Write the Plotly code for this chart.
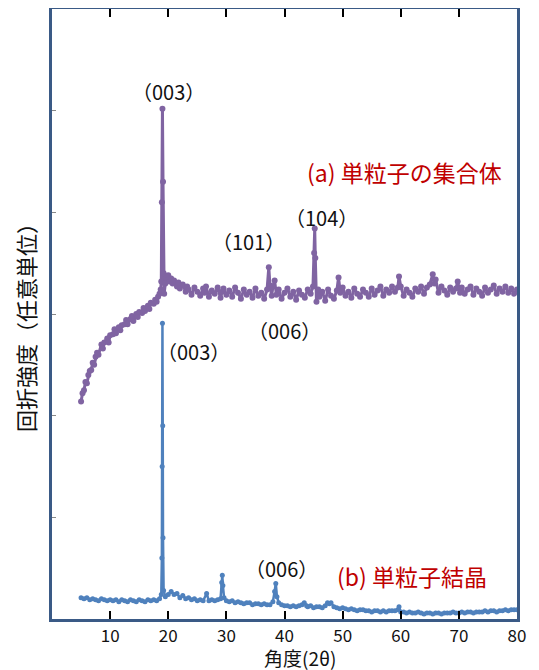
import plotly.graph_objects as go

# (a) 単粒子の集合体 : (2θ, intensity in tick units)
a_points = [
    (5.0, 2.14), (5.25, 2.22), (5.5, 2.25), (5.75, 2.33), (6.0, 2.32), (6.25, 2.40), (6.5, 2.44),
    (6.75, 2.45), (7.0, 2.52), (7.25, 2.50), (7.5, 2.58), (7.75, 2.62), (8.0, 2.60), (8.5, 2.70),
    (8.75, 2.66), (9.0, 2.72), (9.5, 2.76), (9.75, 2.72), (10.0, 2.79), (10.5, 2.80), (10.75, 2.85),
    (11.0, 2.81), (11.5, 2.87), (11.75, 2.84), (12.0, 2.89), (12.5, 2.90), (12.75, 2.94), (13.0, 2.90),
    (13.5, 2.95), (13.75, 2.98), (14.0, 2.93), (14.5, 3.00), (14.75, 2.97), (15.0, 3.02), (15.5, 3.01),
    (15.75, 3.06), (16.0, 3.03), (16.5, 3.08), (16.75, 3.05), (17.0, 3.11), (17.5, 3.10), (17.75, 3.14),
    (18.0, 3.12), (18.25, 3.17), (18.5, 3.20), (18.7, 3.24), (18.8, 3.32), (18.9, 4.10), (19.0, 5.02),
    (19.1, 4.30), (19.2, 3.40), (19.3, 3.20), (19.5, 3.30), (19.7, 3.36), (20.0, 3.38), (20.25, 3.32),
    (20.5, 3.35), (20.75, 3.30), (21.0, 3.33), (21.5, 3.27), (21.75, 3.31), (22.0, 3.25), (22.5, 3.29),
    (23.0, 3.22), (23.25, 3.27), (23.5, 3.24), (24.0, 3.19), (24.5, 3.26), (25.0, 3.22), (25.5, 3.18),
    (26.0, 3.25), (26.25, 3.21), (26.5, 3.27), (27.0, 3.17), (27.5, 3.23), (28.0, 3.20), (28.5, 3.26),
    (29.0, 3.16), (29.25, 3.22), (29.5, 3.25), (30.0, 3.19), (30.5, 3.23), (31.0, 3.17), (31.5, 3.26),
    (32.0, 3.21), (32.5, 3.15), (33.0, 3.24), (33.5, 3.19), (34.0, 3.22), (34.5, 3.16), (35.0, 3.25),
    (35.5, 3.18), (36.0, 3.21), (36.5, 3.15), (37.0, 3.24), (37.3, 3.46), (37.5, 3.28), (37.8, 3.18),
    (38.0, 3.27), (38.3, 3.33), (38.6, 3.19), (39.0, 3.24), (39.5, 3.15), (40.0, 3.21), (40.5, 3.25),
    (41.0, 3.17), (41.5, 3.22), (42.0, 3.14), (42.5, 3.23), (43.0, 3.19), (43.5, 3.16), (44.0, 3.24),
    (44.5, 3.20), (44.9, 3.27), (45.1, 3.60), (45.2, 3.84), (45.3, 3.55), (45.5, 3.12), (45.8, 3.24),
    (46.0, 3.17), (46.5, 3.22), (47.0, 3.13), (47.5, 3.24), (48.0, 3.18), (48.5, 3.15), (49.0, 3.23),
    (49.3, 3.36), (49.6, 3.21), (50.0, 3.26), (50.5, 3.18), (51.0, 3.22), (51.5, 3.16), (52.0, 3.25),
    (52.5, 3.20), (53.0, 3.17), (53.5, 3.24), (54.0, 3.21), (54.5, 3.17), (55.0, 3.25), (55.5, 3.19),
    (56.0, 3.23), (56.5, 3.27), (57.0, 3.18), (57.5, 3.24), (58.0, 3.21), (58.5, 3.27), (59.0, 3.22),
    (59.5, 3.26), (59.7, 3.37), (60.0, 3.27), (60.5, 3.18), (61.0, 3.24), (61.5, 3.21), (62.0, 3.17),
    (62.5, 3.25), (63.0, 3.22), (63.5, 3.27), (64.0, 3.20), (64.5, 3.26), (65.0, 3.29), (65.5, 3.39),
    (65.8, 3.30), (66.0, 3.34), (66.5, 3.21), (67.0, 3.27), (67.5, 3.23), (68.0, 3.19), (68.5, 3.26),
    (69.0, 3.22), (69.5, 3.25), (69.8, 3.32), (70.2, 3.21), (70.5, 3.26), (71.0, 3.20), (71.5, 3.24),
    (72.0, 3.27), (72.5, 3.19), (73.0, 3.25), (73.5, 3.22), (74.0, 3.18), (74.5, 3.26), (75.0, 3.21),
    (75.5, 3.24), (76.0, 3.28), (76.5, 3.20), (77.0, 3.25), (77.5, 3.22), (78.0, 3.27), (78.5, 3.21),
    (79.0, 3.25), (79.5, 3.20), (80.0, 3.24),
]

# (b) 単粒子結晶
b_points = [
    (5.0, 0.21), (5.5, 0.20), (6.0, 0.21), (6.5, 0.19), (7.0, 0.20), (7.5, 0.19), (8.0, 0.18),
    (8.5, 0.20), (9.0, 0.19), (9.5, 0.18), (10.0, 0.19), (10.5, 0.18), (11.0, 0.19), (11.5, 0.17),
    (12.0, 0.19), (12.5, 0.18), (13.0, 0.17), (13.5, 0.19), (14.0, 0.18), (14.5, 0.17), (15.0, 0.19),
    (15.5, 0.18), (16.0, 0.17), (16.5, 0.19), (17.0, 0.18), (17.5, 0.19), (18.0, 0.18), (18.5, 0.20),
    (18.8, 0.24), (18.9, 0.60), (18.95, 1.50), (19.0, 2.91), (19.05, 1.90), (19.1, 0.80), (19.2, 0.28),
    (19.5, 0.22), (20.0, 0.24), (20.5, 0.27), (21.0, 0.24), (21.5, 0.25), (22.0, 0.21), (22.5, 0.23),
    (23.0, 0.20), (23.5, 0.21), (24.0, 0.19), (24.5, 0.20), (25.0, 0.18), (25.5, 0.19), (26.0, 0.18),
    (26.6, 0.25), (27.0, 0.18), (27.5, 0.19), (28.0, 0.18), (28.5, 0.19), (29.0, 0.20), (29.2, 0.36),
    (29.3, 0.43), (29.4, 0.33), (29.6, 0.21), (30.0, 0.18), (30.5, 0.17), (31.0, 0.18), (31.5, 0.16),
    (32.0, 0.17), (32.5, 0.16), (33.0, 0.15), (33.5, 0.16), (34.0, 0.16), (34.5, 0.14), (35.0, 0.15),
    (35.5, 0.15), (36.0, 0.14), (36.5, 0.15), (37.0, 0.14), (37.5, 0.14), (38.0, 0.17), (38.3, 0.27),
    (38.5, 0.35), (38.7, 0.22), (39.0, 0.16), (39.5, 0.14), (40.0, 0.13), (40.5, 0.13), (41.0, 0.12),
    (41.5, 0.13), (42.0, 0.12), (42.5, 0.13), (43.0, 0.14), (43.4, 0.16), (43.8, 0.13), (44.0, 0.12),
    (44.5, 0.13), (45.0, 0.11), (45.5, 0.12), (46.0, 0.12), (46.5, 0.11), (47.0, 0.13), (47.4, 0.16),
    (47.7, 0.15), (48.0, 0.16), (48.5, 0.12), (49.0, 0.11), (49.5, 0.10), (50.0, 0.11), (50.5, 0.10),
    (51.0, 0.09), (51.5, 0.10), (52.0, 0.09), (52.5, 0.08), (53.0, 0.09), (53.5, 0.09), (54.0, 0.08),
    (54.5, 0.08), (55.0, 0.07), (55.5, 0.08), (56.0, 0.08), (56.5, 0.07), (57.0, 0.08), (57.5, 0.07),
    (58.0, 0.08), (58.5, 0.08), (59.0, 0.08), (59.5, 0.09), (59.7, 0.12), (60.0, 0.07), (60.5, 0.07),
    (61.0, 0.06), (61.5, 0.07), (62.0, 0.06), (62.5, 0.06), (63.0, 0.07), (63.5, 0.06), (64.0, 0.05),
    (64.5, 0.06), (65.0, 0.06), (65.5, 0.05), (66.0, 0.06), (66.5, 0.06), (67.0, 0.05), (67.5, 0.06),
    (68.0, 0.06), (68.5, 0.06), (69.0, 0.07), (69.5, 0.06), (70.0, 0.06), (70.5, 0.07), (71.0, 0.06),
    (71.5, 0.07), (72.0, 0.07), (72.5, 0.06), (73.0, 0.07), (73.5, 0.07), (74.0, 0.07), (74.5, 0.08),
    (75.0, 0.07), (75.5, 0.08), (76.0, 0.08), (76.5, 0.07), (77.0, 0.08), (77.5, 0.08), (78.0, 0.09),
    (78.5, 0.08), (79.0, 0.09), (79.5, 0.09), (80.0, 0.09),
]

x_ticks = [10, 20, 30, 40, 50, 60, 70, 80]
y_ticks = [1, 2, 3, 4, 5]

# peak labels: (text, x, y)
peak_labels = [
    ("（003）", 20.0, 5.19),
    ("（101）", 33.8, 3.71),
    ("（104）", 46.4, 3.95),
    ("（006）", 40.0, 2.84),
    ("（003）", 24.3, 2.63),
    ("（006）", 39.5, 0.50),
]
series_labels = [
    ("(a) 単粒子の集合体", 60.7, 4.40),
    ("(b) 単粒子結晶", 61.9, 0.42),
]

FONT = "Noto Sans CJK JP"
PURPLE = "#8064A2"
BLUE = "#4F81BD"
RED = "#C00000"
FRAME = "#3A5A86"

fig = go.Figure()
fig.add_trace(go.Scatter(
    x=[p[0] for p in a_points], y=[p[1] for p in a_points],
    mode="lines+markers", line=dict(color=PURPLE, width=3),
    marker=dict(color=PURPLE, size=6), showlegend=False))
fig.add_trace(go.Scatter(
    x=[p[0] for p in b_points], y=[p[1] for p in b_points],
    mode="lines+markers", line=dict(color=BLUE, width=2.5),
    marker=dict(color=BLUE, size=5), showlegend=False))

annotations = []
for t, x, y in peak_labels:
    annotations.append(dict(text=t, x=x, y=y, xref="x", yref="y", showarrow=False,
                            xanchor="center", yanchor="middle",
                            font=dict(family=FONT, size=20, color="#111")))
for t, x, y in series_labels:
    annotations.append(dict(text=t, x=x, y=y, xref="x", yref="y", showarrow=False,
                            xanchor="center", yanchor="middle",
                            font=dict(family=FONT, size=23, color=RED)))

# page offset: the browser body keeps an 8px margin around the figure
OFF = 8
W, H = 539 - OFF, 670 - OFF
ML, MR, MT, MB = 52 - OFF, 22, 9 - OFF, 51
pw, ph = W - ML - MR, H - MT - MB

def px_to_paper(px, py):
    return (px - OFF - ML) / pw, (H - MB - (py - OFF)) / ph

xt = px_to_paper(300, 657)
yt = px_to_paper(25, 322)
annotations.append(dict(text="角度(2θ)", x=xt[0], y=xt[1], xref="paper", yref="paper",
                        xanchor="center", yanchor="middle", showarrow=False,
                        font=dict(family=FONT, size=19, color="#111")))
annotations.append(dict(text="回折強度（任意単位）", x=yt[0], y=yt[1], textangle=-90,
                        xref="paper", yref="paper", xanchor="center", yanchor="middle",
                        showarrow=False, font=dict(family=FONT, size=22, color="#111")))

fig.update_layout(
    width=W, height=H,
    margin=dict(l=ML, r=MR, t=MT, b=MB, autoexpand=False),
    paper_bgcolor="white", plot_bgcolor="white",
    annotations=annotations,
    font=dict(family=FONT, color="#111"),
    xaxis=dict(range=[0, 80], tickvals=x_ticks, ticks="inside", ticklen=8, tickwidth=2,
               tickcolor="black", showline=True, linecolor=FRAME, linewidth=3,
               mirror="allticks", showgrid=False, zeroline=False, automargin=False,
               tickfont=dict(family=FONT, size=17, color="#111")),
    yaxis=dict(range=[0, 6], tickvals=y_ticks, ticks="inside", ticklen=4, tickwidth=1,
               tickcolor="#888", showticklabels=False, showline=True, linecolor=FRAME,
               linewidth=3, mirror=True, showgrid=False, zeroline=False, automargin=False),
)

fig.write_html("out.html")
